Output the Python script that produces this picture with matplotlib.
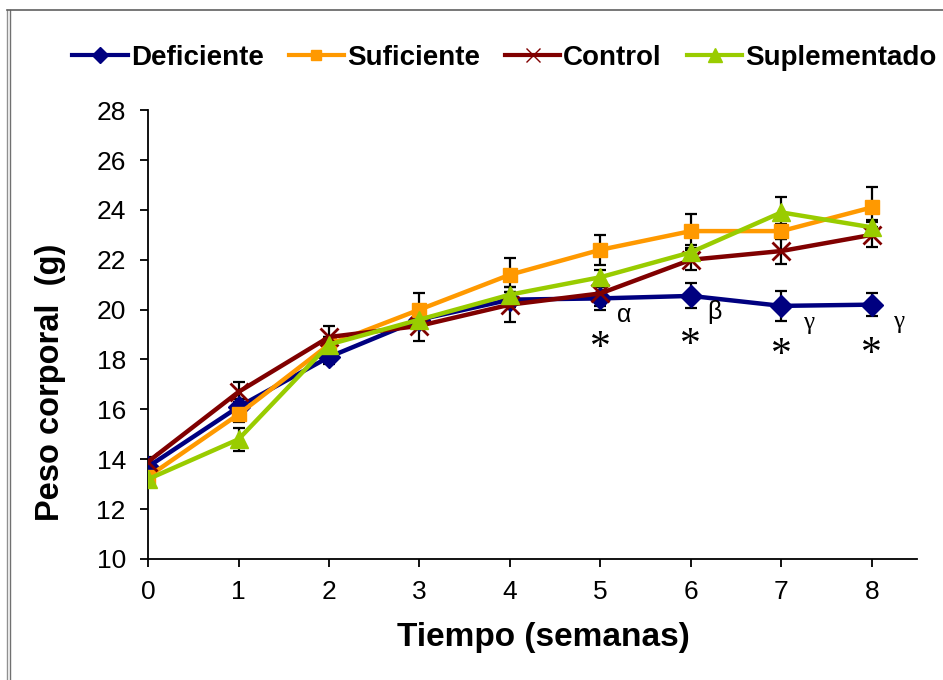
import numpy as np
import matplotlib
matplotlib.use('Agg')
import matplotlib.pyplot as pp
import matplotlib.lines as mlines

pp.rcParams['font.family'] = ['Liberation Sans', 'DejaVu Sans']

# body weight (g) per week, mean and error for each diet group
semanas = [0, 1, 2, 3, 4, 5, 6, 7, 8]
series = ['Deficiente', 'Suficiente', 'Control', 'Suplementado']

deficiente = [13.7, 16.1, 18.1, 19.6, 20.4, 20.45, 20.55, 20.15, 20.2]
suficiente = [13.3, 15.8, 18.6, 20.0, 21.4, 22.4, 23.15, 23.15, 24.1]
control = [13.9, 16.7, 18.9, 19.35, 20.2, 20.65, 22.0, 22.35, 23.0]
suplementado = [13.2, 14.8, 18.6, 19.6, 20.6, 21.3, 22.3, 23.9, 23.3]

err_deficiente = [0.2, 0.3, 0.3, 0.3, 0.3, 0.45, 0.5, 0.6, 0.47]
err_suficiente = [0.2, 0.3, 0.3, 0.67, 0.68, 0.6, 0.68, 0.3, 0.8]
err_control = [0.2, 0.4, 0.45, 0.6, 0.7, 0.5, 0.4, 0.5, 0.5]
err_suplementado = [0.2, 0.45, 0.3, 0.3, 0.3, 0.3, 0.3, 0.6, 0.3]

# significance marks under the Deficiente curve
marca_x = [5, 6, 7, 8]
marca_griega = [u'\u03b1', u'\u03b2', u'\u03b3', u'\u03b3']

valores = [deficiente, suficiente, control, suplementado]
errores = [err_deficiente, err_suficiente, err_control, err_suplementado]
colores = ['#000080', '#FF9900', '#800000', '#99CC00']
marcadores = ['D', 's', 'x', '^']
tamanos = [11, 10, 13, 13]

fig = pp.figure(figsize=(9.43, 6.8), dpi=100)
ax = fig.add_axes([0.157, 0.178, 0.8155, 0.66])

handles = []
for nombre, y, e, c, m, ms in zip(series, valores, errores, colores, marcadores, tamanos):
    ax.errorbar(semanas, y, yerr=e, fmt='none', ecolor='k', elinewidth=1.6,
                capsize=4, capthick=1.6, zorder=2)
    ax.plot(semanas, y, color=c, linewidth=3.2, marker=m, markersize=ms,
            markeredgewidth=2 if m == 'x' else 1, markeredgecolor=c,
            markerfacecolor=c, zorder=3)
    handles.append(mlines.Line2D([], [], color=c, linewidth=3, marker=m,
                                 markersize=ms * 0.75, markeredgecolor=c,
                                 markeredgewidth=1, label=nombre))

ax.set_xlim(0, 8.5)
ax.set_ylim(10, 28)
ax.set_xticks(semanas)
ax.set_yticks(np.arange(10, 29, 2))
ax.spines['top'].set_visible(False)
ax.spines['right'].set_visible(False)
for s in ['left', 'bottom']:
    ax.spines[s].set_linewidth(1.3)
ax.tick_params(axis='both', direction='out', length=6, width=1.3,
               labelsize=19, pad=9)
ax.tick_params(axis='y', pad=10)

ax.set_xlabel('Tiempo (semanas)', fontsize=24, fontweight='bold')
ax.set_ylabel('Peso corporal  (g)', fontsize=23.5, fontweight='bold')
ax.xaxis.set_label_coords(0.514, -0.14)
ax.yaxis.set_label_coords(-0.107, 0.394)

for xm, g in zip(marca_x, marca_griega):
    yd = deficiente[xm]
    ax.text(xm, yd - 2.0, '*', fontsize=30,
            ha='center', va='center', family=['Liberation Serif', 'DejaVu Serif'])
    if g == u'\u03b3':
        ax.text(xm + 0.3, yd - 0.7, g, fontsize=18, ha='center', va='center',
                family=['Liberation Serif', 'DejaVu Serif'])
    else:
        ax.text(xm + 0.26, yd - 0.65, g, fontsize=18, ha='center', va='center')

fig.legend(handles=handles, loc='center', bbox_to_anchor=(0.535, 0.915),
           ncol=4, frameon=False, handlelength=2.0, handletextpad=0.1,
           columnspacing=0.9, prop={'size': 20, 'weight': 'bold'})

# outer frame, left and top edges
fig.add_artist(mlines.Line2D([0.0075, 0.0075], [0, 0.985], color='#909090',
                             linewidth=1.0, transform=fig.transFigure))
fig.add_artist(mlines.Line2D([0.0105, 0.0105], [0, 0.985], color='#707070',
                             linewidth=1.0, transform=fig.transFigure))
fig.add_artist(mlines.Line2D([0.0075, 1.0], [0.985, 0.985], color='#606060',
                             linewidth=1.2, transform=fig.transFigure))

fig.savefig('out.png', dpi=100)
